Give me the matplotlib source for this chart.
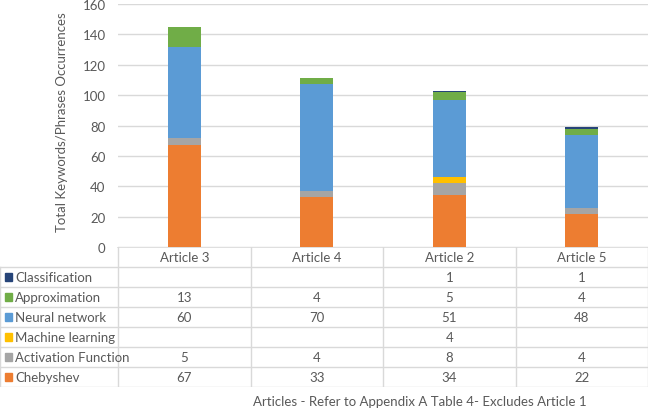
import matplotlib
matplotlib.use("Agg")
import matplotlib.pyplot as plt
from matplotlib.patches import Rectangle

plt.rcParams['font.family'] = ['Lato', 'DejaVu Sans']

articles = ["Article 3", "Article 4", "Article 2", "Article 5"]
# bottom to top stacking order
series = ["Chebyshev", "Activation Function", "Machine learning",
          "Neural network", "Approximation", "Classification"]
chebyshev = [67, 33, 34, 22]
activation = [5, 4, 8, 4]
machine = [0, 0, 4, 0]
neural = [60, 70, 51, 48]
approx = [13, 4, 5, 4]
classif = [0, 0, 1, 1]
values = [chebyshev, activation, machine, neural, approx, classif]
colors = ["#ED7D31", "#A5A5A5", "#FFC000", "#5B9BD5", "#70AD47", "#264478"]

txt = "#595959"
grid = "#D9D9D9"
fs = 9.5
W, H = 649, 410

fig = plt.figure(figsize=(W / 100, H / 100), dpi=100)

# chart area
ax = fig.add_axes([118 / W, (H - 248) / H, 530 / W, 243 / H])
x = [i + 0.5 for i in range(len(articles))]
bottom = [0] * len(articles)
for vals, c in zip(values, colors):
    ax.bar(x, vals, width=0.25, bottom=bottom, color=c, zorder=3)
    bottom = [b + v for b, v in zip(bottom, vals)]
ax.set_xlim(0, len(articles))
ax.set_ylim(0, 160)
ax.set_yticks(range(0, 161, 20))
ax.yaxis.grid(True, color=grid, lw=1)
ax.set_xticks([])
for s in ax.spines.values():
    s.set_visible(False)
ax.tick_params(axis='y', length=0, pad=9, labelsize=fs, labelcolor=txt)
ax.set_ylabel("Total Keywords/Phrases Occurrences", fontsize=fs, color=txt)
ax.yaxis.set_label_coords(-50 / 530, 0.52)

# data table
tb = fig.add_axes([0, (H - 388) / H, 648 / W, 140 / H])
tb.set_xlim(0, 648)
tb.set_ylim(7, 0)
tb.axis('off')
col_edges = [118 + i * 132.5 for i in range(len(articles) + 1)]
rows = series[::-1]
row_vals = values[::-1]
row_cols = colors[::-1]
tb.plot([118, 648], [0, 0], color=grid, lw=1.2)
for r in range(1, 8):
    tb.plot([0, 648], [r, r], color=grid, lw=1)
tb.plot([0, 0], [1, 7], color=grid, lw=1)
for xe in col_edges:
    tb.plot([xe, xe], [0, 7], color=grid, lw=1)
for i, a in enumerate(articles):
    cx = (col_edges[i] + col_edges[i + 1]) / 2
    tb.text(cx, 0.5, a, ha='center', va='center', fontsize=fs, color=txt)
for r, (name, vals, c) in enumerate(zip(rows, row_vals, row_cols), start=1):
    tb.add_patch(Rectangle((5, r + 0.32), 7, 0.36, color=c))
    tb.text(15, r + 0.5, name, ha='left', va='center', fontsize=fs, color=txt)
    for i, v in enumerate(vals):
        if v:
            cx = (col_edges[i] + col_edges[i + 1]) / 2
            tb.text(cx, r + 0.5, str(v), ha='center', va='center', fontsize=fs, color=txt)

fig.text(420 / W, 1 - 402 / H, "Articles - Refer to Appendix A Table 4- Excludes Article 1",
         ha='center', va='center', fontsize=fs, color=txt)

fig.savefig("out.png", dpi=100)
